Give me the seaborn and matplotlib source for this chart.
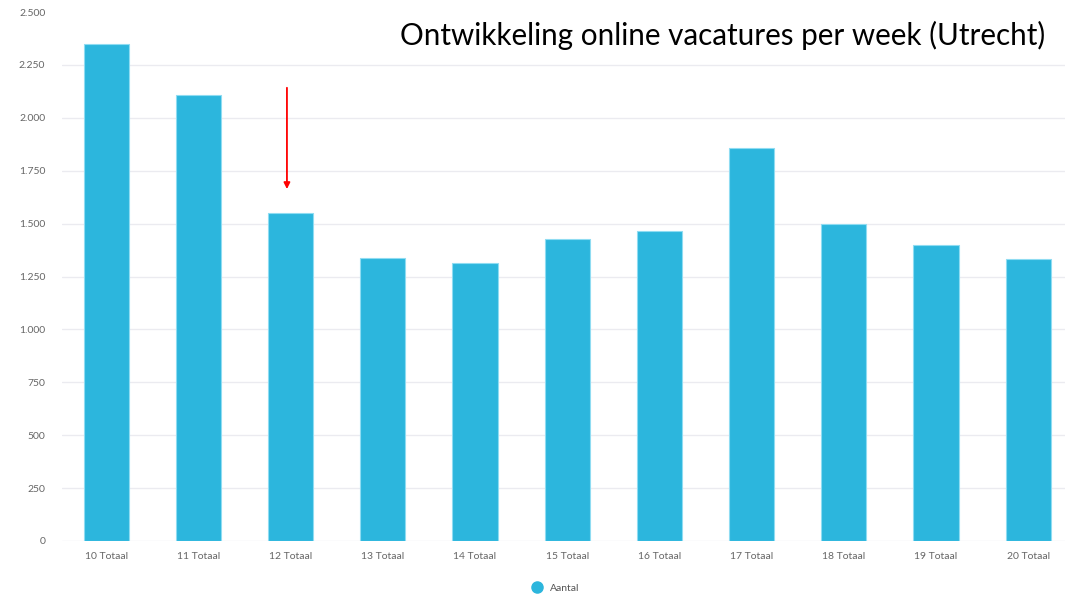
import matplotlib
matplotlib.use("Agg")
import matplotlib.pyplot as plt
import seaborn as sns
import pandas as pd
from matplotlib.ticker import FuncFormatter
from matplotlib.lines import Line2D

categories = ["10 Totaal", "11 Totaal", "12 Totaal", "13 Totaal", "14 Totaal", "15 Totaal",
              "16 Totaal", "17 Totaal", "18 Totaal", "19 Totaal", "20 Totaal"]
values = [2349, 2108, 1550, 1337, 1314, 1427, 1465, 1857, 1498, 1399, 1333]
yticks = [0, 250, 500, 750, 1000, 1250, 1500, 1750, 2000, 2250, 2500]

df = pd.DataFrame({"week": categories, "Aantal": values})

sns.set_theme(style="white")
plt.rcParams['font.family'] = ['Lato', 'DejaVu Sans']

fig = plt.figure(figsize=(10.71, 5.94), dpi=100)
ax = fig.add_axes([62/1071, 1-541/594, (1065-62)/1071, (541-12)/594])

color = "#2cb6dd"
sns.barplot(data=df, x="week", y="Aantal", color=color, width=0.49, ax=ax,
            saturation=1, edgecolor="#8fdcf2", linewidth=0.8)

ax.set_ylim(0, 2500)
ax.set_xlim(-0.48, 10.4)
ax.set_yticks(yticks)
ax.yaxis.set_major_formatter(FuncFormatter(lambda v, p: f"{int(v):,}".replace(",", ".")))
for y in yticks[:-1]:
    ax.axhline(y, color="#ebebf0", linewidth=1, zorder=0)
for s in ax.spines.values():
    s.set_visible(False)
ax.tick_params(axis="both", length=0, labelsize=7.5, labelcolor="#666666")
ax.tick_params(axis="y", pad=12)
ax.tick_params(axis="x", pad=8)
ax.set_xlabel("")
ax.set_ylabel("")

ax.annotate("", xy=(1.96, 1650), xytext=(1.96, 2155),
            arrowprops=dict(arrowstyle="-|>", color="#ff0000", lw=1.3, mutation_scale=9))

fig.text(1045/1071, 1-35/594, "Ontwikkeling online vacatures per week (Utrecht)",
         ha="right", va="center", fontsize=21.3, color="#000000", family=["Lato", "DejaVu Sans"])

handle = Line2D([], [], marker="o", linestyle="", color=color, markersize=8)
fig.legend([handle], ["Aantal"], loc="center", bbox_to_anchor=(553/1071, 1-588/594),
           frameon=False, fontsize=7.5, handletextpad=0.3, labelcolor="#555555")

fig.savefig("out.png", dpi=100, facecolor="white")
